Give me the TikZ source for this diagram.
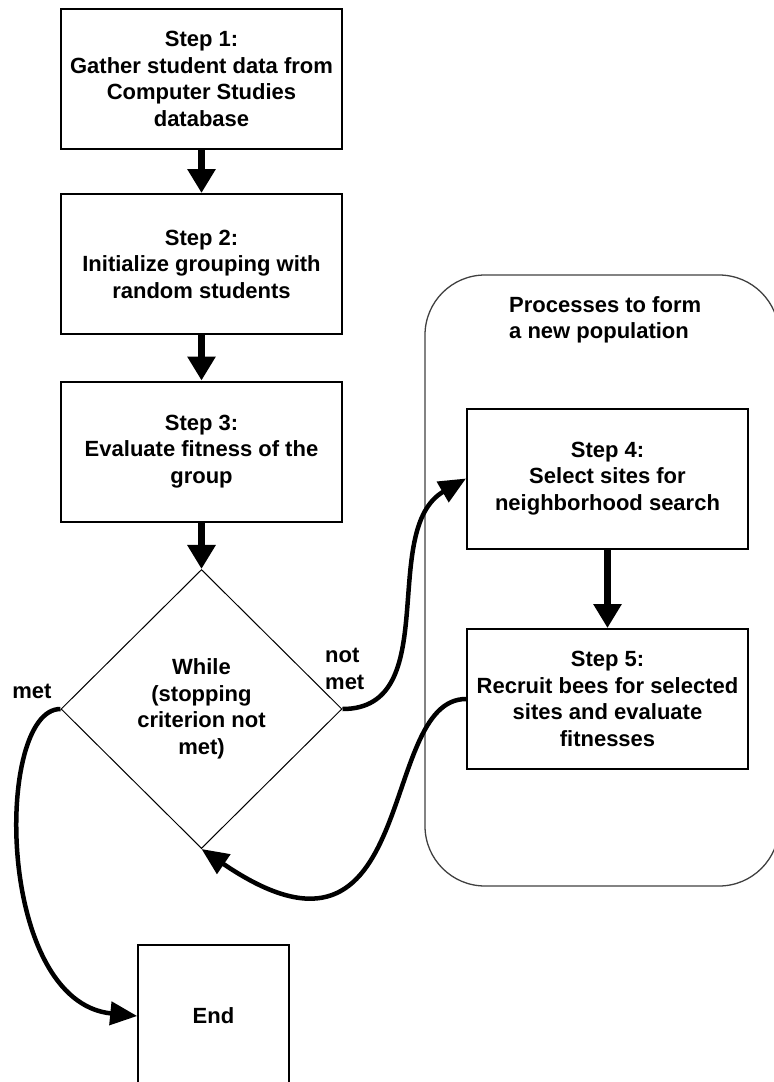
\documentclass[tikz,border=0pt]{standalone}
\usepackage{fontspec}
\setmainfont{Liberation Sans}
\usetikzlibrary{shapes.geometric,arrows.meta}

\tikzstyle{chart}=[x=1pt,y=-1pt,font=\fontsize{22}{26.5}\selectfont\bfseries]
\tikzstyle{stepbox}=[draw,line width=2pt,rectangle,minimum width=281pt,minimum height=140pt,inner sep=0pt,align=center]
\tikzstyle{decision}=[draw,line width=1pt,diamond,aspect=1,minimum width=281pt,minimum height=279pt,inner sep=0pt,align=center]
\tikzstyle{groupbox}=[draw=black!75,line width=1.3pt,rounded corners=60pt,minimum width=354pt,minimum height=611pt]
\tikzstyle{flowarrow}=[line width=7pt,-{Triangle[length=24pt,width=27pt]}]
\tikzstyle{loopedge}=[line width=4.5pt,-{Triangle[length=27pt,width=23pt]}]

\begin{document}
\begin{tikzpicture}[style=chart]
\useasboundingbox (0,0) rectangle (774,1082);
\clip (0,0) rectangle (774,1082);

% container for the population steps
\node[groupbox] (grp) at (602,580.5) {};
\node[anchor=west,inner sep=0pt,align=left] (grptitle) at (509,320) {Processes to form\\a new population};

% main column
\node[stepbox] (s1) at (201.5,79) {Step 1:\\Gather student data from\\Computer Studies\\database};
\node[stepbox] (s2) at (201.5,264) {Step 2:\\Initialize grouping with\\random students};
\node[stepbox] (s3) at (201.5,451.5) {Step 3:\\Evaluate fitness of the\\group};
\node[decision] (dia) at (201.5,709) {While\\(stopping\\criterion not\\met)};
\node[stepbox,line width=1.6pt,minimum width=151pt,minimum height=142pt] (end) at (213.5,1016) {End};

% right column
\node[stepbox] (s4) at (607.5,478.5) {Step 4:\\Select sites for\\neighborhood search};
\node[stepbox] (s5) at (607.5,699) {Step 5:\\Recruit bees for selected\\sites and evaluate\\fitnesses};

\draw[flowarrow] (s1) -- (s2);
\draw[flowarrow] (s2) -- (s3);
\draw[flowarrow] (s3) -- (dia);
\draw[flowarrow] (s4) -- (s5);

\draw[loopedge] (dia.east) .. controls +(102,0) and +(-88,51) .. (s4.west);
\draw[loopedge] (s5.west) .. controls +(-90,0) and +(220,150) .. (dia.south);
\draw[loopedge] (dia.west) .. controls +(-66,0) and +(-142,-14) .. (end.west);

\node[inner sep=0pt] (metlbl) at (32,691) {met};
\node[anchor=west,inner sep=0pt,align=left] (notmetlbl) at (325,669) {not\\met};
\end{tikzpicture}
\end{document}
